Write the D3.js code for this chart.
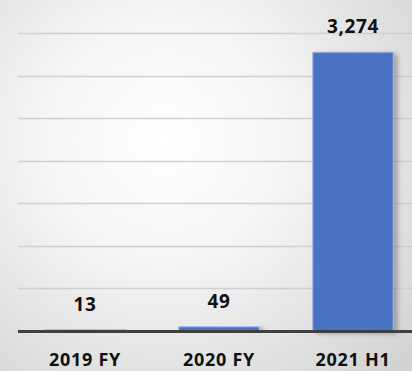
<!DOCTYPE html>
<html>
<head>
<meta charset="utf-8">
<script src="https://cdn.jsdelivr.net/npm/d3@7"></script>
<style>
  html, body { margin: 0; padding: 0; background: #fff; }
  svg { display: block; }
  text { font-family: "Open Sans", "Liberation Sans", sans-serif; font-weight: 700; fill: #111; }
</style>
</head>
<body>
<svg id="chart" width="412" height="371"></svg>
<script>
// Chart data
const categories = ["2019 FY", "2020 FY", "2021 H1"];
const values = [13, 49, 3274];
const gridTicks = [0, 500, 1000, 1500, 2000, 2500, 3000, 3500];

const W = 412, H = 371;
const svg = d3.select("#chart");

// Soft radial background
const defs = svg.append("defs");
const rg = defs.append("radialGradient")
  .attr("id", "bg")
  .attr("gradientUnits", "userSpaceOnUse")
  .attr("cx", 165).attr("cy", 140).attr("r", 330);
rg.append("stop").attr("offset", "0").attr("stop-color", "#ffffff");
rg.append("stop").attr("offset", "0.35").attr("stop-color", "#f6f6f6");
rg.append("stop").attr("offset", "1").attr("stop-color", "#d2d2d2");

const shadow = defs.append("filter").attr("id", "shadow")
  .attr("x", "-20%").attr("y", "-10%").attr("width", "150%").attr("height", "120%");
shadow.append("feDropShadow")
  .attr("dx", 4).attr("dy", 2).attr("stdDeviation", 2.5)
  .attr("flood-color", "#000").attr("flood-opacity", 0.28);

svg.append("rect").attr("width", W).attr("height", H).attr("fill", "url(#bg)");

const plotLeft = 18, plotRight = 420, plotTop = 33, plotBottom = 331;

const x = d3.scaleBand()
  .domain(categories)
  .range([plotLeft, plotRight])
  .paddingInner(0.4)
  .paddingOuter(0.2);

const y = d3.scaleLinear()
  .domain([0, 3500])
  .range([plotBottom, plotTop]);

// Horizontal gridlines
svg.append("g")
  .selectAll("line")
  .data(gridTicks.filter(d => d > 0))
  .join("line")
  .attr("x1", plotLeft).attr("x2", W)
  .attr("y1", d => Math.round(y(d)) + 0.5)
  .attr("y2", d => Math.round(y(d)) + 0.5)
  .attr("stroke", "#cfcfcf")
  .attr("stroke-width", 1.5);

// Bars
svg.append("g")
  .selectAll("rect")
  .data(values)
  .join("rect")
  .attr("x", (d, i) => x(categories[i]))
  .attr("y", d => y(d))
  .attr("width", x.bandwidth())
  .attr("height", d => plotBottom - y(d))
  .attr("fill", "#4a73c2")
  .attr("stroke", "#9db3e0")
  .attr("stroke-width", 1)
  .attr("filter", "url(#shadow)");

// Category axis line
svg.append("line")
  .attr("x1", plotLeft).attr("x2", W)
  .attr("y1", plotBottom + 0.5).attr("y2", plotBottom + 0.5)
  .attr("stroke", "#3f3f3f")
  .attr("stroke-width", 3);

// Value labels
const fmt = d3.format(",");
svg.append("g")
  .selectAll("text")
  .data(values)
  .join("text")
  .attr("x", (d, i) => x(categories[i]) + x.bandwidth() / 2)
  .attr("y", d => y(d) - 19)
  .attr("text-anchor", "middle")
  .attr("font-size", 19)
  .attr("letter-spacing", 0.6)
  .text(d => fmt(d));

// Category labels
svg.append("g")
  .selectAll("text")
  .data(categories)
  .join("text")
  .attr("x", d => x(d) + x.bandwidth() / 2)
  .attr("y", 366)
  .attr("text-anchor", "middle")
  .attr("font-size", 18)
  .attr("letter-spacing", 0.7)
  .text(d => d);
</script>
</body>
</html>
